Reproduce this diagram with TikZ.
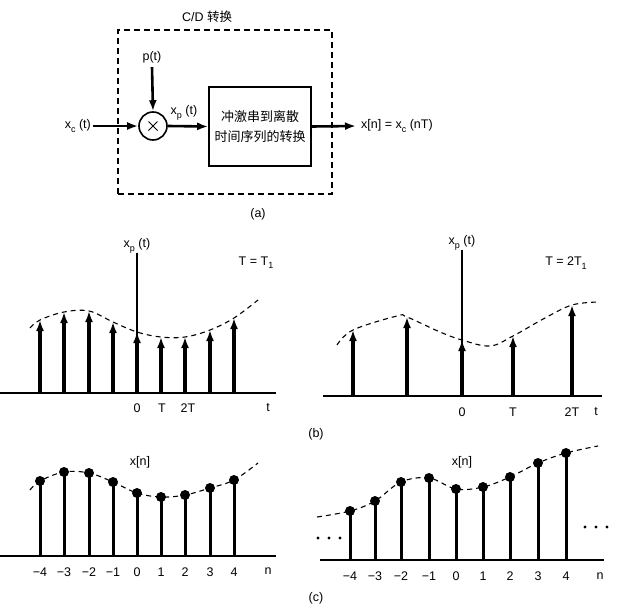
\documentclass[tikz,border=0pt]{standalone}
\usepackage{fontspec}
\setmainfont{Liberation Sans}
\newfontfamily\cjk{Noto Sans CJK SC}
\usetikzlibrary{arrows.meta}
\newcommand{\lowsub}[1]{\raisebox{-0.5ex}{\small #1}}
\begin{document}
\begin{tikzpicture}[x=1pt,y=-1pt,
  lbl/.style={font=\fontsize{12.5}{14}\selectfont, inner sep=0pt},
  cjklbl/.style={font=\fontsize{13}{20}\selectfont\cjk, inner sep=0pt, align=center},
  sig/.style={line width=2.6pt, -{Latex[length=11pt,width=8pt]}},
  imp/.style={line width=3.2pt, -{Latex[length=11pt,width=8pt]}},
  stem/.style={line width=3pt},
  dotc/.style={fill=black, radius=5pt},
  smalldot/.style={fill=black, radius=1.7pt},
  axis/.style={line width=1.4pt},
  vaxis/.style={line width=1.1pt},
  curve/.style={dash pattern=on 5pt off 4pt, line width=1.1pt},
  blockbox/.style={draw, line width=1.6pt, minimum width=102pt, minimum height=79pt, inner sep=0pt},
  mulnode/.style={draw, circle, line width=1.6pt, minimum size=28pt, inner sep=0pt},
  cdbox/.style={draw, dash pattern=on 6pt off 4pt, line width=1.3pt, minimum width=214pt, minimum height=164pt, inner sep=0pt}
]
\useasboundingbox (0,0) rectangle (630,608);

% ---------------- (a) ----------------
\node[cdbox] (cd) at (225,112) {};
\node[lbl] (cdlbl) at (207,17) {C/D {\cjk 转换}};
\node[mulnode] (mul) at (153,126) {};
\draw[line width=1pt] ([shift={(-4.5,-4.5)}]mul.center) -- ([shift={(4.5,4.5)}]mul.center)
                      ([shift={(-4.5,4.5)}]mul.center) -- ([shift={(4.5,-4.5)}]mul.center);
\node[blockbox, cjklbl] (blk) at (260,126.5) {冲激串到离散\\时间序列的转换};
\node[lbl, anchor=east] (xc) at (91,126) {x\lowsub{c} (t)};
\node[lbl] (pt) at (152,57) {p(t)};
\node[lbl] (xp) at (184,113) {x\lowsub{p} (t)};
\coordinate (outend) at (356,126);
\node[lbl, anchor=west] (xn) at (361,126) {x[n] = x\lowsub{c} (nT)};
\draw[sig] (xc.east) ++(2,0) -- (mul.west);
\draw[sig] (pt.south) ++(0,4) -- (mul.north);
\draw[sig] (mul.east) -- (blk.west);
\draw[sig] (blk.east) -- (outend);
\node[lbl] (alab) at (258,214) {(a)};

% ---------------- (b) left ----------------
\draw[axis] (0,393) -- (276,393);
\node[lbl] (xpl) at (137,246) {x\lowsub{p} (t)};
\draw[vaxis] (137,393) -- (xpl.south);
\draw[curve] plot[smooth, tension=0.6] coordinates {(30,328) (40,320) (64,312) (89,311) (113,322) (137,332) (161,337) (185,337) (210,330) (234,318) (258,300)};
\foreach \x/\y in {40/320,64/312,89/311,113/322,137/332,161/337,185/337,210/330,234/318}
  \draw[imp] (\x,393) -- (\x,\y);
\node[lbl] (l0) at (137,408) {0};
\node[lbl] (lT) at (162,408) {T};
\node[lbl] (l2T) at (188,408) {2T};
\node[lbl] (lt) at (268,408) {t};
\node[lbl] (Tl) at (256,263) {T = T\lowsub{1}};

% ---------------- (b) right ----------------
\draw[axis] (323,396) -- (602,396);
\node[lbl] (xpr) at (462,243) {x\lowsub{p} (t)};
\draw[vaxis] (462,396) -- (xpr.south);
\draw[curve] plot[smooth, tension=0.6] coordinates {(337,345) (353,330) (397,316) (407,317) (440,332) (462,340) (490,346) (513,336) (545,318) (572,305) (598,302)};
\foreach \x/\y in {353/330,407/317,462/340,513/336,572/305}
  \draw[imp] (\x,396) -- (\x,\y);
\node[lbl] (r0) at (462,412) {0};
\node[lbl] (rT) at (513,412) {T};
\node[lbl] (r2T) at (572,412) {2T};
\node[lbl] (rt) at (596,412) {t};
\node[lbl] (Tr) at (566,263) {T = 2T\lowsub{1}};

\node[lbl] (blab) at (316,434) {(b)};

% ---------------- (c) left ----------------
\draw[axis] (0,556) -- (276,556);
\draw[curve] plot[smooth, tension=0.6] coordinates {(30,490) (40,481) (64,472) (89,473) (113,482) (137,493) (161,497) (185,495) (210,488) (234,480) (258,463)};
\foreach \x/\y in {40/481,64/472,89/473,113/482,137/493,161/497,185/495,210/488,234/480} {
  \draw[stem] (\x,556) -- (\x,\y);
  \fill[dotc] (\x,\y) circle;
}
\foreach \x/\t in {40/−4,64/−3,89/−2,113/−1,137/0,161/1,185/2,210/3,234/4}
  \node[lbl] at (\x,572) {\t};
\node[lbl] (ln) at (268,571) {n};
\node[lbl] (xnl) at (140,462) {x[n]};

% ---------------- (c) right ----------------
\draw[axis] (320,560) -- (604,560);
\draw[curve] plot[smooth, tension=0.6] coordinates {(317,517) (350,511) (375,501) (401,482) (429,478) (456,489) (483,487) (510,477) (538,463) (566,453) (598,446)};
\foreach \x/\y in {350/511,375/501,401/482,429/478,456/489,483/487,510/477,538/463,566/453} {
  \draw[stem] (\x,560) -- (\x,\y);
  \fill[dotc] (\x,\y) circle;
}
\foreach \x/\t in {350/−4,375/−3,401/−2,429/−1,456/0,483/1,510/2,538/3,566/4}
  \node[lbl] at (\x,576) {\t};
\node[lbl] (rn) at (600,576) {n};
\node[lbl] (xnr) at (462,462) {x[n]};
\foreach \x in {318,329,340} \fill[smalldot] (\x,538) circle;
\foreach \x in {585,596,607} \fill[smalldot] (\x,527) circle;

\node[lbl] (clab) at (316,598) {(c)};
\end{tikzpicture}
\end{document}
